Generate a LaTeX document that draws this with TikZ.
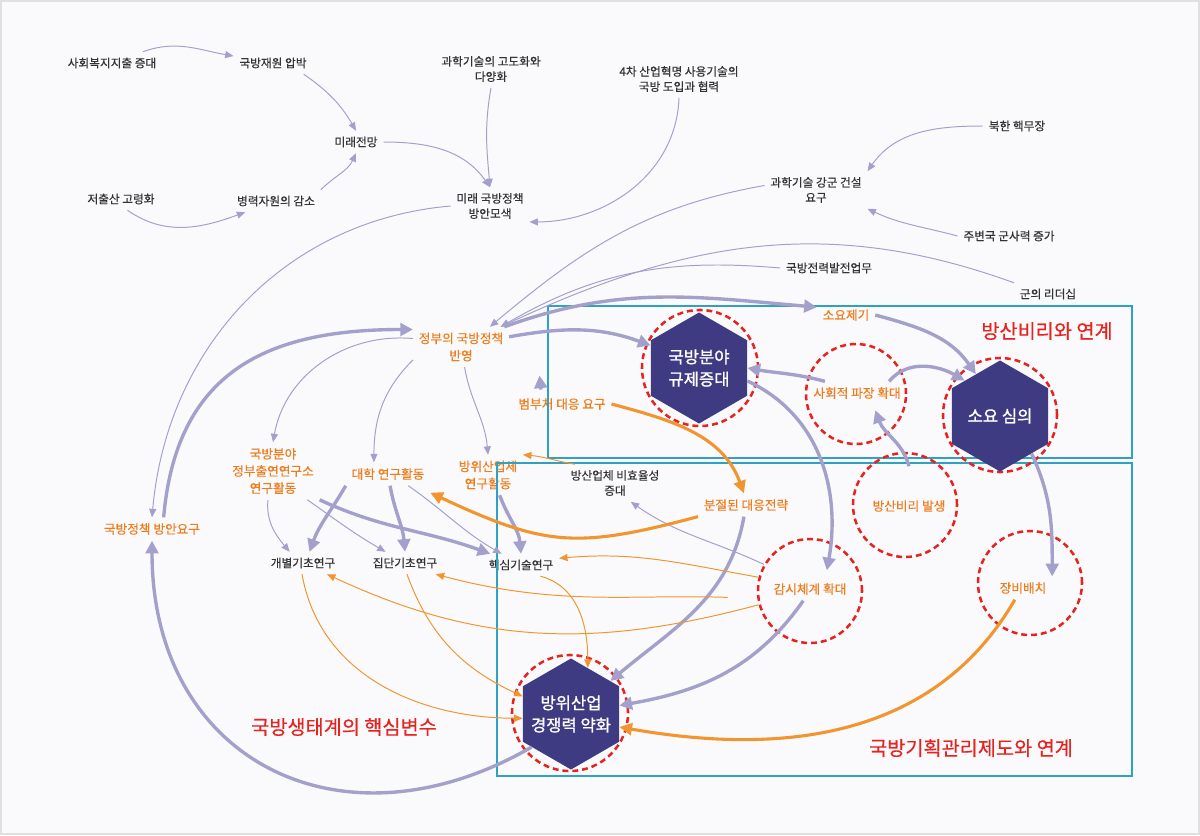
\documentclass[tikz,border=0pt]{standalone}
\usepackage{fontspec}
\setmainfont{Noto Sans CJK KR}
\newfontfamily\lblfont{Noto Sans CJK KR}[FakeBold=0.4]
\newfontfamily\hexfont{Noto Sans CJK KR}[FakeBold=1.2]
\usepackage{xcolor}
\usetikzlibrary{math,arrows.meta,shapes.geometric}

\definecolor{bgpaper}{HTML}{FAFAFD}
\definecolor{lav}{HTML}{A3A0CC}
\definecolor{org}{HTML}{F2952F}
\definecolor{orgtxt}{HTML}{EE7D1C}
\definecolor{ringred}{HTML}{E5231F}
\definecolor{hexblue}{HTML}{3F3B82}
\definecolor{boxteal}{HTML}{2EA2C0}
\definecolor{txtgray}{HTML}{333333}

\tikzset{
  lbl/.style={font=\lblfont\fontsize{8.3}{10.8}\selectfont, text=txtgray, align=center, inner sep=4pt},
  olbl/.style={lbl, font=\lblfont\fontsize{9}{12.2}\selectfont, text=orgtxt},
  bigred/.style={font=\lblfont\fontsize{14}{16}\selectfont, text=ringred, inner sep=0pt},
  hexa/.style={regular polygon, regular polygon sides=6, shape border rotate=30,
    fill=hexblue, text=white, font=\hexfont\fontsize{11.8}{15.8}\selectfont, align=center,
    inner sep=-12pt, minimum size=\hexd cm},
  ring/.style={circle, draw=ringred, line width=1.8pt, dash pattern=on 4.2pt off 2.8pt, inner sep=0pt},
  area/.style={draw=boxteal, line width=1.4pt},
  lavthin/.style={draw=lav, line width=0.7pt, -{Triangle[length=6pt,width=5pt]}},
  lavthick/.style={draw=lav, line width=2.4pt, -{Triangle[length=9pt,width=9pt]}},
  orgthin/.style={draw=org, line width=0.7pt, -{Triangle[length=6pt,width=5pt]}},
  orgthick/.style={draw=org, line width=2.2pt, -{Triangle[length=9pt,width=8.5pt]}}
}

\begin{document}
\begin{tikzpicture}[x=0.025cm, y=0.025cm]

\tikzmath{
\hexd = 2.775;
}

\useasboundingbox (0,0) rectangle (1200,-835);
\draw[fill=bgpaper, draw=black!12, line width=0.8pt] (1,-1) rectangle (1199,-834);

% outer factors
\node[lbl] (welfare) at (112,-63) {사회복지지출 증대};
\node[lbl] (budget) at (273,-63) {국방재원 압박};
\node[lbl] (hightech) at (491,-69) {과학기술의 고도화와\\다양화};
\node[lbl] (fourth) at (679,-79) {4차 산업혁명 사용기술의\\국방 도입과 협력};
\node[lbl] (outlook) at (356,-142) {미래전망};
\node[lbl] (lowbirth) at (121,-199) {저출산 고령화};
\node[lbl] (troops) at (276,-201) {병력자원의 감소};
\node[lbl] (futpol) at (490,-206) {미래 국방정책\\방안모색};
\node[lbl] (nuke) at (1017,-126) {북한 핵무장};
\node[lbl] (sciarmy) at (816,-190) {과학기술 강군 건설\\요구};
\node[lbl] (neighbor) at (1009,-236) {주변국 군사력 증가};
\node[lbl] (forcedev) at (829,-268) {국방전력발전업무};
\node[lbl] (leader) at (1048,-294) {군의 리더십};
\node[lbl] (ineff) at (615,-483) {방산업체 비효율성\\증대};
\node[lbl] (indiv) at (303,-563) {개별기초연구};
\node[lbl] (group) at (405,-563) {집단기초연구};
\node[lbl] (core) at (521,-565) {핵심기술연구};

% policy and research
\node[olbl] (govpol) at (461,-347) {정부의 국방정책\\반영};
\node[olbl] (reqgen) at (846,-315) {소요제기};
\node[olbl] (multi) at (562,-404) {범부처 대응 요구};
\node[olbl] (gri) at (273,-471) {국방분야\\정부출연연구소\\연구활동};
\node[olbl] (univ) at (388,-474) {대학 연구활동};
\node[olbl] (indres) at (488,-475) {방위산업체\\연구활동};
\node[olbl] (split) at (746,-505) {분절된 대응전략};
\node[olbl] (polreq) at (152,-529) {국방정책 방안요구};
\node[olbl] (ripple) at (857,-393) {사회적 파장 확대};
\node[olbl] (corrupt) at (909,-506) {방산비리 발생};
\node[olbl] (watch) at (810,-589) {감시체계 확대};
\node[olbl] (deploy) at (1023,-588) {장비배치};

\node[bigred] (tcorrupt) at (1047,-331) {방산비리와 연계};
\node[bigred] (tcore) at (344,-727) {국방생태계의 핵심변수};
\node[bigred] (tplan) at (971,-748) {국방기획관리제도와 연계};

\draw[area] (548,-306) rectangle (1132,-458);
\draw[area] (497,-463) rectangle (1132,-776);

\foreach \nm/\x/\y/\d in {regul/700/368/2.9, ripple/856/394/2.5, review/1000/415/2.85,
    corrupt/905/505/2.6, watch/810/591/2.6, deploy/1030/583/2.6, weak/570/713/2.9}
  \node[ring, minimum size=\d cm] (\nm-ring) at (\x,-\y) {};

\node[hexa] (regul) at (699,-368) {국방분야\\규제증대};
\node[hexa] (review) at (1000,-416) {소요 심의};
\node[hexa] (weak) at (571,-714) {방위산업\\경쟁력 약화};

% thin links
\draw[lavthin] (welfare) to[out=20,in=170] (budget);
\draw[lavthin] (budget.-20) to[out=-35,in=120] (outlook.north);
\draw[lavthin] (lowbirth.-60) to[out=-35,in=200] (troops.200);
\draw[lavthin] (troops.north east) to[out=45,in=-115] (outlook.south);
\draw[lavthin] (outlook.east) to[out=0,in=125] (futpol.north);
\draw[lavthin] (hightech.south) to[out=-100,in=95] (futpol.north);
\draw[lavthin] (fourth.south) to[out=-92,in=0] (futpol.-22);
\draw[lavthin] (nuke.west) to[out=180,in=55] (sciarmy.north east);
\draw[lavthin] (neighbor.west) to[out=165,in=-25] (sciarmy.south east);
\draw[lavthin] (sciarmy.175) to[out=190,in=40] (govpol.35);
\draw[lavthin] (forcedev.west) to[out=175,in=30] (govpol.27);
\draw[lavthin] (leader.north west) to[out=160,in=25] (govpol.27);
\draw[lavthin] (futpol.west) to[out=185,in=85] (polreq.north);
\draw[lavthin] (govpol.170) to[out=175,in=80] (gri.north);
\draw[lavthin] (govpol.-165) to[out=-135,in=90] ([xshift=-10pt]univ.north);
\draw[lavthin] (govpol.-80) to[out=-80,in=95] (indres.north);
\draw[lavthin] (gri.-100) to[out=-95,in=130] (indiv.140);
\draw[lavthin] (gri.-40) to[out=-35,in=150] (group.150);
\draw[lavthin] (univ.-30) to[out=-35,in=150] (core.150);
\draw[lavthin] (watch-ring.150) to[out=155,in=-35] (ineff.-50);

% thick links
\draw[lavthick] (polreq.45) to[out=85,in=180,looseness=1.2] (govpol.160);
\draw[lavthick] (weak.-140) to[out=-150,in=-90,looseness=1.3] (polreq.south);
\draw[lavthick] (govpol.25) to[out=20,in=175] (reqgen.165);
\draw[lavthick] (govpol.12) to[out=10,in=160] (regul.155);
\draw[lavthick] (univ.south west) to[out=-120,in=70] (indiv.60);
\draw[lavthick] (univ.-80) to[out=-80,in=95] (group.north);
\draw[lavthick] (gri.south east) to[out=-25,in=160] (core.160);
\draw[lavthick] (indres.-60) to[out=-70,in=95] (core.north);
\draw[lavthick] (regul.-15) to[out=-25,in=80] ([xshift=12pt,yshift=5pt]watch.north);
\draw[lavthick] (ripple.160) to[out=165,in=-10] (regul.east);
\draw[lavthick] (ripple.20) to[out=50,in=150] (review.135);
\draw[lavthick] (reqgen.east) to[out=-15,in=125] (review.120);
\draw[lavthick] ([yshift=20pt]corrupt.north) to[out=105,in=-70] ([xshift=13pt,yshift=-4pt]ripple.south);
\draw[lavthick] (review.-50) to[out=-65,in=90] (deploy.north east);
\draw[lavthick] (split.-100) to[out=-100,in=40] (weak.40);
\draw[lavthick] (watch.-120) to[out=-125,in=10] (weak.10);
\draw[lavthick] ([xshift=-15pt,yshift=2pt]multi.north) -- ([xshift=-16pt,yshift=12pt]multi.north);

% orange links
\draw[orgthick] (multi.east) to[out=-15,in=110] (split.100);
\draw[orgthick] (split.south west) to[out=-165,in=-25,looseness=1.2] ([yshift=-5pt]univ.south east);
\draw[orgthick] (deploy.-125) to[out=-120,in=-10] (weak.-15);
\draw[orgthin] (watch-ring.165) to[out=170,in=5] (core.10);
\draw[orgthin] (watch-ring.195) to[out=-165,in=-25] (indiv.-25);
\draw[orgthin, shorten <=21pt] (watch-ring.188) to[out=178,in=-15] (group.-20);
\draw[orgthin] (indiv.-95) to[out=-80,in=180] (weak.185);
\draw[orgthin] (group.-80) to[out=-70,in=155] (weak.160);
\draw[orgthin] (core.-30) to[out=-15,in=90] (weak.70);
\draw[orgthin] (ineff.155) to[out=170,in=-5] (indres.30);

\end{tikzpicture}
\end{document}
